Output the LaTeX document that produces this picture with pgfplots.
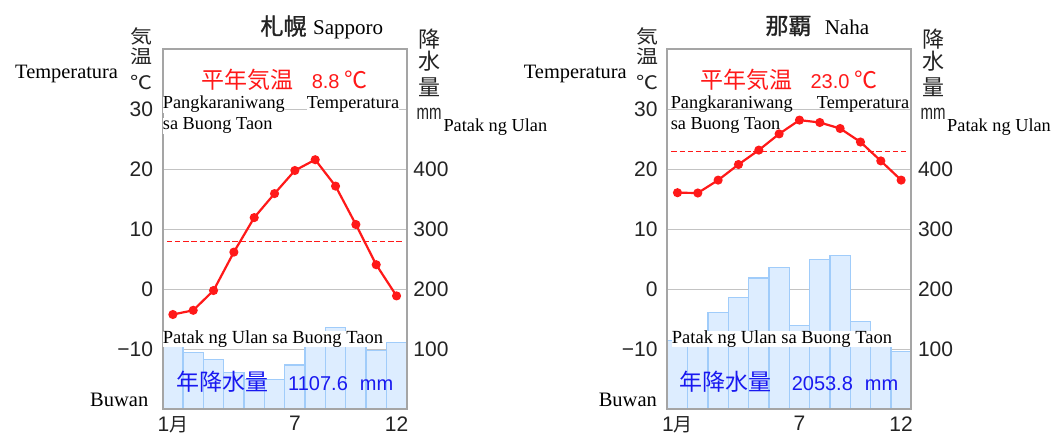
\documentclass[border=0pt]{standalone}
\usepackage{fontspec}
\usepackage{graphicx}
\usepackage{pgfplots}
\usepackage{pgfplotstable}
\pgfplotsset{compat=1.18}
\setmainfont{Liberation Serif}
\newfontfamily\sans{Liberation Sans}
\newfontfamily\cjk{Noto Sans CJK JP}
\newfontfamily\cjkb[FakeBold=1.2]{Noto Sans CJK JP}
\definecolor{barfill}{RGB}{221,237,255}
\definecolor{baredge}{RGB}{160,204,250}
\definecolor{frame}{RGB}{165,165,165}
\definecolor{gridc}{RGB}{195,195,195}
\definecolor{tred}{RGB}{255,25,25}
\definecolor{tblue}{RGB}{25,25,240}
\definecolor{lab}{RGB}{35,35,35}
\newcommand{\fs}[1]{\fontsize{#1}{#1}\selectfont}

\pgfplotstableread{
m t p
1 -4.2 114
2 -3.5 95
3 -0.2 83
4 6.2 62
5 11.95 50
6 15.95 50
7 19.8 74
8 21.6 124
9 17.2 136
10 10.8 109
11 4.1 98
12 -1.1 112
}\sapporo
\pgfplotstableread{
m t p
1 16.1 115
2 16.05 122
3 18.2 162
4 20.8 187
5 23.2 219
6 25.9 236
7 28.2 140
8 27.8 250
9 26.8 256
10 24.55 147
11 21.4 122
12 18.2 97
}\naha
\pgfplotstableread{
x sap nah
0.7 8 23
12.25 8 23
}\means

\pgfplotsset{
 base/.style={scale only axis, width=244pt, height=360pt, xmin=0.5, xmax=12.5,
   anchor=south west, major tick length=0pt, clip=false},
 precip/.style={base, ymin=0, ymax=600, axis line style={draw=none},
   ytick={100,200,300,400,500}, yticklabels={100,200,300,400,{}},
   yticklabel pos=right,
   yticklabel style={font=\sans\fs{21}, text=lab, anchor=west, inner sep=0pt, xshift=6.5pt},
   ymajorgrids, grid style={gridc, line width=1.2pt},
   xtick={1,7,12}, xticklabels={1{\cjk\fs{19}月},7,12},
   xticklabel style={font=\sans\fs{21}, text=lab, anchor=north, inner sep=0pt, yshift=-7pt}},
 temp/.style={base, ymin=-20, ymax=40, axis line style={frame, line width=1.8pt},
   xtick=\empty, ytick={-10,0,10,20,30}, yticklabels={−10,0,10,20,30},
   yticklabel style={font=\sans\fs{21}, text=lab, anchor=east, inner sep=0pt, xshift=-9.5pt}},
 bars/.style={ybar, bar width=1, bar shift=0pt, fill=barfill, draw=baredge, line width=1.2pt},
 tline/.style={color=tred, line width=2.2pt, mark=*, mark size=3.4pt, mark options={solid, fill=tred}},
 mline/.style={color=tred, line width=1.5pt, mark=none, dash pattern=on 5.5pt off 2.7pt},
}
\tikzset{
 vlab/.style={font=\cjk\fs{22}, text=lab, inner sep=0pt},
 ovl/.style={anchor=base west, font=\fs{18.3}, fill=white, inner sep=0pt},
 ovn/.style={anchor=base west, font=\fs{18.3}, inner sep=0pt}
}

\begin{document}
\begin{tikzpicture}[x=1pt,y=1pt]
\useasboundingbox (0,0) rectangle (1055,437);

% ---------- Sapporo ----------
\begin{axis}[precip, at={(162.7pt,27.7pt)}]
\addplot[bars] table[x=m,y=p]{\sapporo};
\end{axis}
\begin{axis}[temp, at={(162.7pt,27.7pt)}]
\addplot[mline] table[x=x,y=sap]{\means};
\addplot[tline] table[x=m,y=t]{\sapporo};
\end{axis}

\node[anchor=base west, font=\fs{20.4}] at (11.7,358) {Temperatura};
\node[vlab] at (141,401) {\scalebox{1}[0.85]{気}};
\node[vlab] at (141,381) {\scalebox{1}[0.85]{温}};
\node[vlab] at (141,355) {\scalebox{1}[0.85]{℃}};
\node[font=\cjkb\fs{23}, text=lab, inner sep=0pt] at (283.5,411) {札幌};
\node[anchor=base west, font=\fs{21}, inner sep=0pt] at (313,402) {Sapporo};
\node[vlab] at (429,398) {降};
\node[vlab] at (429,376) {水};
\node[vlab] at (429,350) {量};
\node[font=\sans\fs{15}, text=lab, inner sep=0pt] at (429,323) {\scalebox{1}[1.4]{mm}};
\node[anchor=base west, font=\fs{18.3}, inner sep=0pt] at (443.3,305.3) {Patak ng Ulan};
\node[text=tred, font=\cjk\fs{23}, inner sep=0pt] at (284.7,357) {平年気温\hspace{18pt}{\sans\fs{20}8.8}\hspace{5pt}℃};
\node[ovl] at (162.7,328) {Pangkaraniwang};
\node[ovl] at (306.7,328) {Temperatura};
\node[ovl] at (162.7,307) {sa Buong Taon};
\node[ovl, font=\fs{18.5}] at (162.7,93.5) {Patak ng Ulan sa Buong Taon};
\node[text=tblue, font=\cjk\fs{23}, inner sep=0pt] at (284.7,55.3) {年降水量\hspace{20pt}{\sans\fs{20}1107.6\hspace{12pt}mm}};
\node[anchor=base west, font=\fs{20.5}, inner sep=0pt] at (90,31) {Buwan};

% ---------- Naha ----------
\begin{axis}[precip, at={(667.3pt,27.7pt)}]
\addplot[bars] table[x=m,y=p]{\naha};
\end{axis}
\begin{axis}[temp, at={(667.3pt,27.7pt)}]
\addplot[mline] table[x=x,y=nah]{\means};
\addplot[tline] table[x=m,y=t]{\naha};
\end{axis}

\node[anchor=base west, font=\fs{20.4}] at (520.4,358) {Temperatura};
\node[vlab] at (647,401) {\scalebox{1}[0.85]{気}};
\node[vlab] at (647,381) {\scalebox{1}[0.85]{温}};
\node[vlab] at (647,355) {\scalebox{1}[0.85]{℃}};
\node[font=\cjkb\fs{23}, text=lab, inner sep=0pt] at (788.5,411) {那覇};
\node[anchor=base west, font=\fs{21}, inner sep=0pt] at (824.6,402) {Naha};
\node[vlab] at (933,398) {降};
\node[vlab] at (933,376) {水};
\node[vlab] at (933,350) {量};
\node[font=\sans\fs{15}, text=lab, inner sep=0pt] at (933,323) {\scalebox{1}[1.4]{mm}};
\node[anchor=base west, font=\fs{18.3}, inner sep=0pt] at (947,305.3) {Patak ng Ulan};
\node[text=tred, font=\cjk\fs{23}, inner sep=0pt] at (789,357) {平年気温\hspace{18pt}{\sans\fs{20}23.0}\hspace{5pt}℃};
\node[ovn] at (670.6,328.3) {Pangkaraniwang};
\node[ovn] at (816.7,328.3) {Temperatura};
\node[ovn] at (670.6,307) {sa Buong Taon};
\node[ovl, font=\fs{18.5}] at (671.7,93.5) {Patak ng Ulan sa Buong Taon};
\node[text=tblue, font=\cjk\fs{23}, inner sep=0pt] at (789,55.3) {年降水量\hspace{20pt}{\sans\fs{20}2053.8\hspace{12pt}mm}};
\node[anchor=base west, font=\fs{20.5}, inner sep=0pt] at (598.6,31) {Buwan};
\end{tikzpicture}
\end{document}
